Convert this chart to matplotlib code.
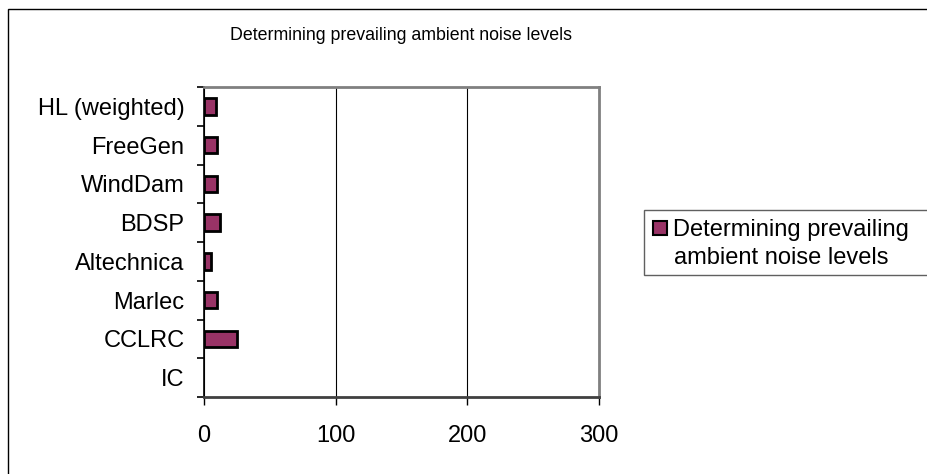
import matplotlib
matplotlib.use('Agg')
import matplotlib.pyplot as plt
from matplotlib.patches import Rectangle
import numpy as np

plt.rcParams['font.family'] = ['Liberation Sans', 'DejaVu Sans']

# Data (bottom to top as drawn)
categories = ['IC', 'CCLRC', 'Marlec', 'Altechnica', 'BDSP', 'WindDam', 'FreeGen', 'HL (weighted)']
values = [0, 25, 10, 5, 12, 10, 10, 9]
series_lines = ['Determining prevailing', 'ambient noise levels']
title = 'Determining prevailing ambient noise levels'
x_ticks = [0, 100, 200, 300]

BAR = '#993366'
W, H = 927, 474
fig = plt.figure(figsize=(W / 100, H / 100), dpi=100, facecolor='white')

def fx(px):
    return px / W

def fy(py):
    return 1 - py / H

# outer chart frame (cropped on right/bottom)
fig.patches.append(Rectangle((fx(8), -0.05), 1.2, fy(9) + 0.05, transform=fig.transFigure,
                             fill=False, edgecolor='black', linewidth=1.0, zorder=0))

ax = fig.add_axes([fx(204), fy(397), 395 / W, 310 / H])
y = np.arange(len(categories))
edges = ['black' if v > 0 else 'none' for v in values]
ax.barh(y, values, height=0.42, color=BAR, edgecolor=edges, linewidth=2.0, zorder=3)

ax.set_xlim(0, 300)
ax.set_ylim(-0.5, len(categories) - 0.5)
ax.set_xticks(x_ticks)
ax.set_xticklabels([str(t) for t in x_ticks], fontsize=17)
ax.xaxis.grid(True, color='black', linewidth=0.8, zorder=1)

# category labels at centres, ticks at boundaries
ax.set_yticks(y)
ax.set_yticklabels(categories, fontsize=17)
ax.tick_params(axis='y', which='major', length=0, pad=14)
ax.set_yticks(np.arange(-0.5, len(categories), 1.0), minor=True)
ax.tick_params(axis='y', which='minor', length=5, width=1.2, direction='out')
ax.tick_params(axis='x', length=6, width=1.0, direction='out', pad=14)

for side in ['top', 'right']:
    ax.spines[side].set_color('#808080')
    ax.spines[side].set_linewidth(2.0)
ax.spines['bottom'].set_color('#404040')
ax.spines['bottom'].set_linewidth(2.0)
ax.spines['left'].set_color('black')
ax.spines['left'].set_linewidth(1.2)

fig.text(fx(401), fy(35), title, ha='center', va='center', fontsize=12.8)

# legend drawn by hand (box cropped at right edge)
fig.patches.append(Rectangle((fx(644), fy(275)), 0.5, (275 - 210) / H, transform=fig.transFigure,
                             facecolor='white', edgecolor='#606060', linewidth=1.0, zorder=2))
fig.patches.append(Rectangle((fx(653), fy(235)), 14 / W, 14 / H, transform=fig.transFigure,
                             facecolor=BAR, edgecolor='black', linewidth=1.5, zorder=3))
fig.text(fx(673), fy(236), series_lines[0], ha='left', va='baseline', fontsize=17, zorder=4)
fig.text(fx(674), fy(264), series_lines[1], ha='left', va='baseline', fontsize=17, zorder=4)

fig.savefig('out.png', dpi=100, facecolor='white')
